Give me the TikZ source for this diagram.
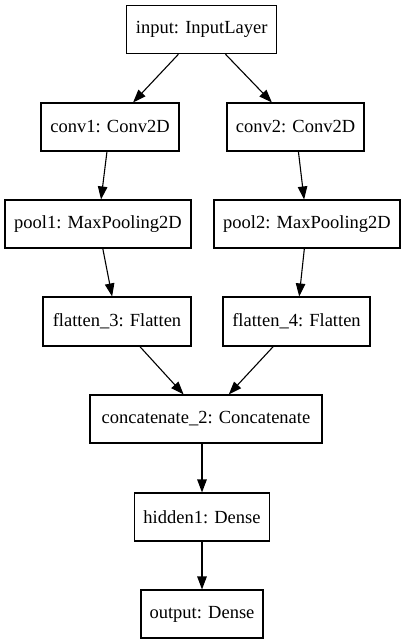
\documentclass[tikz,border=0pt]{standalone}
\usepackage{fontspec}
\setmainfont{Liberation Serif}
\usetikzlibrary{arrows.meta}

\tikzset{
  layer/.style={draw=black, line width=1.1pt, rectangle, inner sep=0pt,
                font=\fontsize{18.5}{21}\selectfont, text=black},
  flow/.style={draw=black, line width=1.1pt,
               -{Triangle[length=13pt,width=9.5pt]}},
}

\begin{document}
\begin{tikzpicture}[x=1pt, y=-1pt]
  \useasboundingbox (0,0) rectangle (405,644);

  % layers of the two-branch model
  \node[layer, minimum width=150pt, minimum height=48.4pt] (input) at (201.7,29.5) {input: InputLayer};
  \node[layer, minimum width=138pt, minimum height=48pt] (conv1) at (110,127) {conv1: Conv2D};
  \node[layer, minimum width=137pt, minimum height=48pt] (conv2) at (295.5,127) {conv2: Conv2D};
  \node[layer, minimum width=186pt, minimum height=48pt] (pool1) at (98,224) {pool1: MaxPooling2D};
  \node[layer, minimum width=186pt, minimum height=48pt] (pool2) at (307,224) {pool2: MaxPooling2D};
  \node[layer, minimum width=148pt, minimum height=49pt] (flat3) at (117,321.5) {flatten\_3: Flatten};
  \node[layer, minimum width=147pt, minimum height=49pt] (flat4) at (296.5,321.5) {flatten\_4: Flatten};
  \node[layer, minimum width=232pt, minimum height=48pt] (concat) at (206,419) {concatenate\_2: Concatenate};
  \node[layer, minimum width=135pt, minimum height=48pt] (hidden) at (202,517) {hidden1: Dense};
  \node[layer, minimum width=122pt, minimum height=48pt] (output) at (202,614) {output: Dense};

  % data flow
  \draw[flow] (input) -- (conv1);
  \draw[flow] (input) -- (conv2);
  \draw[flow] (conv1) -- (pool1);
  \draw[flow] (conv2) -- (pool2);
  \draw[flow] (pool1) -- (flat3);
  \draw[flow] (pool2) -- (flat4);
  \draw[flow] (flat3) -- (concat);
  \draw[flow] (flat4) -- (concat);
  \draw[flow] (concat.south -| hidden.north) -- (hidden.north);
  \draw[flow] (hidden) -- (output);
\end{tikzpicture}
\end{document}
